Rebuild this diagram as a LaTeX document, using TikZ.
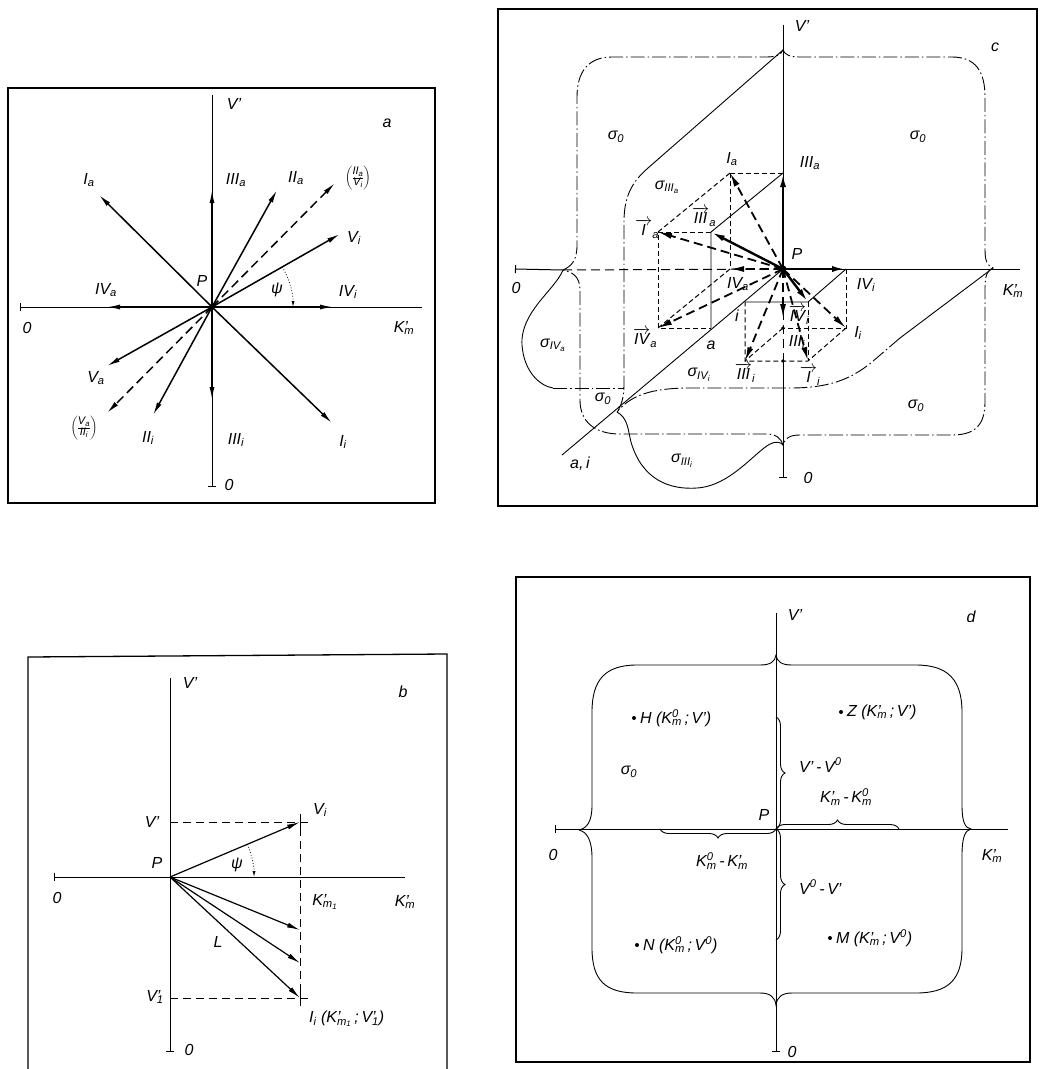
\documentclass[tikz,border=0pt]{standalone}
\usepackage{fontspec}
\setmainfont{Liberation Sans}
\usetikzlibrary{arrows.meta,calc,decorations.pathreplacing}

\newcommand{\ix}[2]{#1\textsubscript{#2}}
\newcommand{\Kp}{K\rlap{'}\textsubscript{m}}
\newcommand{\Kz}{K\rlap{\textsuperscript{0}}\textsubscript{m}}
\newcommand{\Kpo}{K\rlap{'}\textsubscript{m\textsubscript{1}}}
\newcommand{\Vz}{V\textsuperscript{0}}
\newcommand{\Vpo}{V\rlap{'}\textsubscript{1}}
\newcommand{\sg}[1]{σ\textsubscript{#1}}
\newcommand{\arr}[1]{$\overrightarrow{\mbox{#1}}$}
\newcommand{\pfrac}[2]{$\left(\vcenter{\hbox{\fontsize{11}{11}\selectfont\itshape
  \renewcommand{\arraystretch}{0.9}\begin{tabular}{@{}c@{}}#1\\\hline #2\end{tabular}}}\right)$}

\begin{document}
\begin{tikzpicture}[
  x=1pt, y=-1pt,
  font=\fontsize{16}{19}\selectfont\itshape,
  panel/.style={line width=1.3pt},
  axline/.style={line width=1pt},
  thinline/.style={line width=0.9pt},
  vec/.style={-{Latex[length=13pt,width=5pt]}, line width=1.5pt},
  dvec/.style={vec, dash pattern=on 9pt off 5pt},
  tvec/.style={-{Latex[length=14pt,width=6pt]}, line width=2.4pt},
  tdvec/.style={tvec, line width=1.8pt, dash pattern=on 9pt off 5pt},
  aux/.style={line width=1pt, dash pattern=on 5pt off 3pt},
  region/.style={line width=0.9pt, dash pattern=on 14pt off 3pt on 1.5pt off 3pt},
  angarc/.style={line width=0.8pt, dotted, -{Latex[length=6pt,width=3pt]}},
  brc/.style={decorate, decoration={brace, amplitude=9pt}, line width=0.9pt},
  lbl/.style={inner sep=1pt},
  pt/.style={circle, fill, inner sep=0pt, minimum size=4pt}
]
\useasboundingbox (0,0) rectangle (1040,1069);

% ---------------- a
\draw[panel] (8,88) rectangle (435,503);
\coordinate (aP) at (212,307);
\draw[axline, {Bar[width=8pt]}-] (20,307) coordinate (aO1) -- (422,307) coordinate (aK);
\draw[axline, {Bar[width=8pt]}-] (212,487) coordinate (aO2) -- (212,95) coordinate (aV);
\foreach \n/\x/\y in {Ia/99/195, IIIa/212/190, IIa/277/190, Vi/340/234, IVi/333/307,
                      IVa/107/307, Ii/332/423, IIIi/212/400, IIi/153/415, Va/107/366} {
  \coordinate (a\n) at (\x,\y);
  \draw[vec] (aP) -- (a\n);
}
\coordinate (aQa) at (335,183);
\coordinate (aQi) at (107,413);
\draw[dvec] (aP) -- (aQa);
\draw[dvec] (aP) -- (aQi);
\fill (aP) circle (3pt);
\draw[angarc] (282.4,266.9) arc[start angle=-29.7, end angle=0, radius=81];

\node[lbl] (laV) at (234,104) {V'};
\node[lbl] (laa) at (387,123) {a};
\node[lbl] (laP) at (202,281) {P};
\node[lbl] (laIa) at (89,180) {\ix{I}{a}};
\node[lbl] (laIIIa) at (236,180) {\ix{III}{a}};
\node[lbl] (laIIa) at (296,178) {\ix{II}{a}};
\node[lbl] (laQa) at (358,178) {\pfrac{\ix{II}{a}}{\ix{V}{i}}};
\node[lbl] (laVi) at (354,238) {\ix{V}{i}};
\node[lbl] (laIVa) at (106,290) {\ix{IV}{a}};
\node[lbl] (lapsi) at (277,290) {ψ};
\node[lbl] (laIVi) at (348,292) {\ix{IV}{i}};
\node[lbl] (laO1) at (27,328) {0};
\node[lbl] (laK) at (404,328) {\Kp};
\node[lbl] (laVa) at (96,378) {\ix{V}{a}};
\node[lbl] (laQi) at (84,428) {\pfrac{\ix{V}{a}}{\ix{II}{i}}};
\node[lbl] (laIIi) at (148,438) {\ix{II}{i}};
\node[lbl] (laIIIi) at (236,440) {\ix{III}{i}};
\node[lbl] (laIi) at (343,442) {\ix{I}{i}};
\node[lbl] (laO2) at (229,485) {0};

% ---------------- b
\draw[panel] (28,1069) -- (28,657) -- (447,654) -- (447,1069);
\coordinate (bP) at (170,877);
\draw[axline, {Bar[width=8pt]}-] (54,877) coordinate (bO1) -- (405,877) coordinate (bK);
\draw[axline, {Bar[width=8pt]}-] (170,1052) coordinate (bO2) -- (170,678) coordinate (bV);
\coordinate (bVi) at (300,822);
\coordinate (bL1) at (300,930);
\coordinate (bL2) at (300,963);
\coordinate (bIi) at (300,998);
\draw[aux, dash pattern=on 8pt off 5pt] (170,822) -- (310,822);
\draw[aux, dash pattern=on 8pt off 5pt] (170,998) -- (310,998);
\draw[aux, dash pattern=on 8pt off 5pt] (300,815) -- (300,1005);
\draw[axline] (300,814) -- (300,830) (300,990) -- (300,1006);
\foreach \t in {bVi, bL1, bL2, bIi}
  \draw[vec, line width=1.2pt] (bP) -- (\t);
\draw[angarc] (247.4,844.3) arc[start angle=-22.93, end angle=0, radius=84];

\node[lbl] (lbV) at (190,683) {V'};
\node[lbl] (lbb) at (403,692) {b};
\node[lbl] (lbP) at (157,863) {P};
\node[lbl] (lbVl) at (152,822) {V'};
\node[lbl] (lbVi) at (320,810) {\ix{V}{i}};
\node[lbl] (lbpsi) at (237,865) {ψ};
\node[lbl] (lbO1) at (57,898) {0};
\node[lbl] (lbKo) at (325,902) {\Kpo};
\node[lbl] (lbK) at (405,902) {\Kp};
\node[lbl] (lbL) at (218,942) {L};
\node[lbl] (lbV1) at (155,997) {\Vpo};
\node[lbl, anchor=west] (lbIi) at (308,1019) {\ix{I}{i} (\Kpo\,;\,\Vpo)};
\node[lbl] (lbO2) at (189,1050) {0};

% ---------------- c
\draw[panel] (498,9) rectangle (1037,506);
\coordinate (cP) at (783,269);
\coordinate (cVt) at (783,50);
\coordinate (cRt) at (993,268);
\coordinate (cBt) at (783,445);
\coordinate (cLt) at (563,270);
\coordinate (cS) at (617,412);
\draw[axline, {Bar[width=8pt]}-] (515,269) -- (cLt);
\draw[axline, dash pattern=on 9pt off 5pt] (cLt) -- (cP);
\draw[axline] (cP) -- (1020,269);
\draw[axline] (cP) -- (783,25);
\draw[axline, dash pattern=on 9pt off 5pt] (cP) -- (783,361);
\draw[axline, {Bar[width=8pt]}-] (783,478) -- (783,361);

% Grenzlinien der Bereiche
\draw[region] (cLt)
  .. controls (572,266) and (577,260) .. (577,245) -- (577,97)
  .. controls (577,72) and (588,57) .. (612,57) -- (766,57)
  .. controls (776,57) and (781,55) .. (cVt)
  .. controls (785,55) and (790,57) .. (800,57) -- (952,57)
  .. controls (976,57) and (985,72) .. (985,97) -- (985,250)
  .. controls (985,262) and (988,266) .. (cRt)
  .. controls (988,270) and (985,274) .. (985,288) -- (985,402)
  .. controls (985,425) and (975,435) .. (952,435) -- (800,435)
  .. controls (790,435) and (785,438) .. (cBt)
  .. controls (781,438) and (776,434) .. (766,434) -- (620,434)
  .. controls (595,434) and (580,422) .. (580,400) -- (580,290)
  .. controls (580,276) and (572,272) .. (cLt);
\draw[thinline] (cVt) -- (648,168);
\draw[region] (648,168) .. controls (632,182) and (624,196) .. (624,222) -- (624,385)
  .. controls (624,398) and (621,406) .. (cS);
\draw[thinline] (cLt) .. controls (555,290) and (520,312) .. (522,345)
  .. controls (524,372) and (540,386) .. (553,388);
\draw[region] (553,388) -- (624,388);
\draw[thinline] (cRt) -- (900,338);
\draw[region] (900,338) -- (872,362) .. controls (850,380) and (828,388) .. (790,388)
  -- (690,388) .. controls (650,388) and (630,396) .. (cS);
\draw[thinline] (cS) .. controls (628,418) and (628,430) .. (631,442)
  .. controls (642,480) and (670,490) .. (697,488)
  .. controls (730,486) and (755,452) .. (770,444)
  .. controls (776,441) and (781,442) .. (cBt);
\draw[thinline] (cP) -- (562,455) coordinate (cai);

% Zerlegung der Vektoren
\coordinate (cIIIa) at (783,173);
\coordinate (cIa) at (730,173);
\coordinate (cIVa) at (730,269);
\coordinate (cIIIav) at (711,232);
\coordinate (cIav) at (658,232);
\coordinate (cIVav) at (658,328);
\coordinate (ca) at (711,328);
\coordinate (ci) at (745,302);
\coordinate (cIVi) at (846,269);
\coordinate (cIViv) at (808,302);
\coordinate (cIi) at (846,328);
\coordinate (cm) at (783,328);
\coordinate (cIIIi) at (783,318);
\coordinate (cIIIiv) at (745,361);
\coordinate (cIiv) at (808,361);
\coordinate (cn) at (783,361);
\draw[aux] (cIa) -- (cIIIa);
\draw[aux] (cIa) -- (cIVa);
\draw[aux] (cIa) -- (cIav);
\draw[aux] (cIIIav) -- (cIav) -- (cIVav) -- (ca);
\draw[aux] (cIVa) -- (cIVav);
\draw[thinline] (cIIIa) -- (cIIIav) -- (ca);
\draw[thinline] (cIVi) -- (cIViv) -- (ci);
\draw[aux] (cIVi) -- (cIi) -- (cm);
\draw[aux] (cIi) -- (cIiv) -- (cIIIiv) -- (ci);
\draw[aux] (cIViv) -- (cIiv);
\draw[aux] (cm) -- (cIIIiv);
\fill (cm) circle (1.8pt) (cn) circle (1.8pt);
\foreach \t in {cIIIa, cIVi, cIIIav, cIViv}
  \draw[tvec] (cP) -- (\t);
\foreach \t in {cIa, cIVa, cIav, cIVav, cIi, cIIIi, cIIIiv, cIiv}
  \draw[tdvec] (cP) -- (\t);
\fill (cP) circle (3.5pt);

\node[lbl] (lcV) at (802,26) {V'};
\node[lbl] (lcc) at (995,47) {c};
\node[lbl] (lcP) at (797,254) {P};
\node[lbl] (lcO1) at (516,288) {0};
\node[lbl] (lcK) at (1013,291) {\Kp};
\node[lbl] (lcO2) at (808,478) {0};
\node[lbl] (lcs1) at (616,137) {\sg{0}};
\node[lbl] (lcs2) at (918,137) {\sg{0}};
\node[lbl] (lcs3) at (667,187) {σ\textsubscript{III\textsubscript{a}}};
\node[lbl] (lcs4) at (553,345) {σ\textsubscript{IV\textsubscript{a}}};
\node[lbl] (lcs5) at (699,375) {σ\textsubscript{IV\textsubscript{i}}};
\node[lbl] (lcs6) at (603,399) {\sg{0}};
\node[lbl] (lcs7) at (916,406) {\sg{0}};
\node[lbl] (lcs8) at (682,461) {σ\textsubscript{III\textsubscript{i}}};
\node[lbl] (lcIIIa) at (810,163) {\ix{III}{a}};
\node[lbl] (lcIa) at (732,159) {\ix{I}{a}};
\node[lbl] (lcIIIav) at (704,217) {\arr{III}\textsubscript{a}};
\node[lbl] (lcIav) at (647,229) {\arr{I}\textsubscript{a}};
\node[lbl] (lcIVa) at (738,284) {\ix{IV}{a}};
\node[lbl] (lcIVav) at (645,338) {\arr{IV}\textsubscript{a}};
\node[lbl] (lca) at (711,345) {a};
\node[lbl] (lci) at (737,316) {i};
\node[lbl] (lcIVi) at (866,285) {\ix{IV}{i}};
\node[lbl] (lcIViv) at (799,315) {\arr{IV}\textsubscript{i}};
\node[lbl] (lcIi) at (858,333) {\ix{I}{i}};
\node[lbl] (lcIIIi) at (797,342) {\ix{III}{i}};
\node[lbl] (lcIIIiv) at (745,373) {\arr{III}\textsubscript{i}};
\node[lbl] (lcIiv) at (810,376) {\arr{I}\textsubscript{i}};
\node[lbl] (lcai) at (580,464) {a,\,i};

% ---------------- d
\draw[panel] (516,577) rectangle (1030,1062);
\coordinate (dP) at (776,829);
\draw[axline, {Bar[width=8pt]}-] (555,829) -- (1008,829);
\draw[axline, {Bar[width=8pt]}-] (776,1052) -- (776,613);
\draw[thinline] (579,830)
  .. controls (587,828) and (592,822) .. (592,805) -- (592,712)
  .. controls (592,680) and (605,665) .. (637,665) -- (760,665)
  .. controls (770,665) and (775,662) .. (776,655)
  .. controls (777,662) and (782,665) .. (792,665) -- (916,665)
  .. controls (948,665) and (962,680) .. (962,712) -- (962,805)
  .. controls (962,822) and (965,828) .. (971,829)
  .. controls (965,830) and (962,838) .. (962,855) -- (962,948)
  .. controls (962,980) and (948,993) .. (916,993) -- (792,993)
  .. controls (782,993) and (777,997) .. (776,1005)
  .. controls (775,997) and (770,993) .. (760,993) -- (637,993)
  .. controls (605,993) and (592,980) .. (592,948) -- (592,858)
  .. controls (592,840) and (587,832) .. (579,830);
\draw[brc] (776,717) -- (dP);
\draw[brc] (dP) -- (776,940);
\draw[brc] (dP) -- (899,829);
\draw[brc] (dP) -- (660,829);

\node[pt] (dH) at (634,718) {};
\node[pt] (dZ) at (841,712) {};
\node[pt] (dN) at (637,945) {};
\node[pt] (dM) at (830,938) {};
\node[lbl, anchor=west] (ldH) at (dH.east) {\,H (\Kz\,;\,V')};
\node[lbl, anchor=west] (ldZ) at (dZ.east) {\,Z (\Kp\,;\,V')};
\node[lbl, anchor=west] (ldN) at (dN.east) {\,N (\Kz\,;\,\Vz)};
\node[lbl, anchor=west] (ldM) at (dM.east) {\,M (\Kp\,;\,\Vz)};
\node[lbl] (ldV) at (795,615) {V'};
\node[lbl] (ldd) at (971,617) {d};
\node[lbl] (ldP) at (764,815) {P};
\node[lbl] (ldO1) at (553,855) {0};
\node[lbl] (ldK) at (992,856) {\Kp};
\node[lbl] (ldO2) at (792,1052) {0};
\node[lbl] (lds) at (629,772) {\sg{0}};
\node[lbl, anchor=west] (ldb1) at (798,765) {V'\,-\,\Vz};
\node[lbl, anchor=west] (ldb2) at (798,887) {\Vz\,-\,V'};
\node[lbl] (ldb3) at (846,797) {\Kp\,-\,\Kz};
\node[lbl] (ldb4) at (722,861) {\Kz\,-\,\Kp};

\end{tikzpicture}
\end{document}
